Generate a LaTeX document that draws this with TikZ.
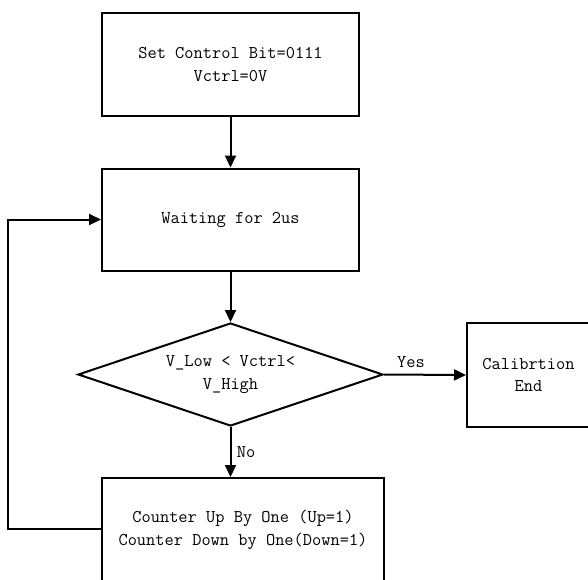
\documentclass[tikz,border=0pt]{standalone}
\usetikzlibrary{shapes.geometric,arrows.meta}
\begin{document}
\begin{tikzpicture}[x=1pt,y=-1pt,
  line width=2pt,
  txt/.style={font=\ttfamily\fontsize{17.9}{22.5}\selectfont, text=black, align=center},
  procbox/.style={draw, rectangle, txt, inner sep=0pt},
  decide/.style={draw, diamond, aspect=3, txt, inner sep=0pt, minimum width=305pt, minimum height=103pt},
  flow/.style={-{Triangle[length=12pt,width=11pt]}},
  lbl/.style={txt}]
\useasboundingbox (0,0) rectangle (588,579);
\clip (0,0) rectangle (588,579);
\node[procbox, minimum width=257pt, minimum height=103pt] (b1) at (230.5,64.5) {Set Control Bit=0111\\Vctrl=0V};
\node[procbox, minimum width=257pt, minimum height=102pt] (b2) at (230.5,219.5) {Waiting for 2us};
\node[decide] (d) at (230.5,374.5) {V\_Low < Vctrl<\\V\_High};
\node[procbox, minimum width=123pt, minimum height=104pt] (b3) at (528.5,375) {Calibrtion\\End};
\node[procbox, minimum width=282pt, minimum height=104pt] (b4) at (243,530) {Counter Up By One (Up=1)\\Counter Down by One(Down=1)};
\coordinate (lb) at (8,529);
\draw[flow] (b1.south) -- (b2.north);
\draw[flow] (b2.south) -- (d.north);
\draw[flow] (d.east) -- node[lbl, above=3pt, pos=0.33] {Yes} (b3.west);
\draw[flow] (d.south) -- node[lbl, right=2pt, pos=0.5] {No} (b4.north -| d.south);
\draw[flow] (b4.west |- lb) -- (lb) |- (b2.west);
\end{tikzpicture}
\end{document}
